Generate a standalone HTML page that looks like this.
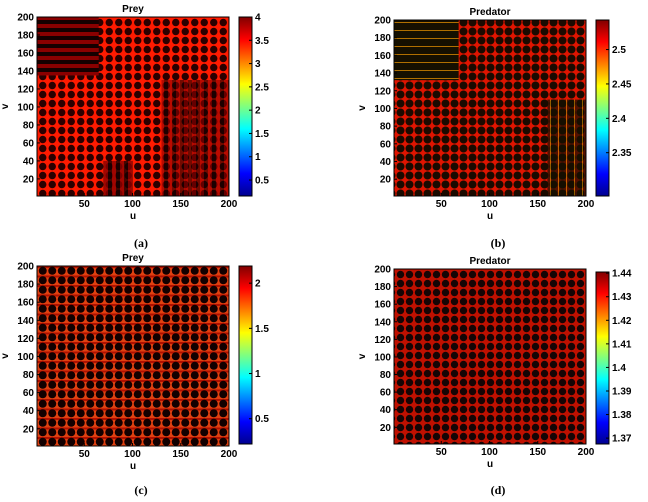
<!DOCTYPE html>
<html><head><meta charset="utf-8">
<style>
body{margin:0;background:#fff;width:648px;height:497px;overflow:hidden;font-family:"Liberation Sans",Arial,sans-serif}
svg text{font-family:"Liberation Sans",Arial,sans-serif}
svg text.cap{font-family:"Liberation Serif",serif}
</style></head>
<body>
<svg id="fig" width="648" height="497" viewBox="0 0 648 497" xmlns="http://www.w3.org/2000/svg">
<defs>
<linearGradient id="jet" x1="0" y1="1" x2="0" y2="0">
<stop offset="0" stop-color="#00008f"/><stop offset="0.125" stop-color="#0000ff"/>
<stop offset="0.375" stop-color="#00ffff"/><stop offset="0.625" stop-color="#ffff00"/>
<stop offset="0.875" stop-color="#ff0000"/><stop offset="1" stop-color="#800000"/>
</linearGradient>
<pattern id="patA" width="9.5" height="9" patternUnits="userSpaceOnUse">
<rect width="9.5" height="9" fill="#ff1a00"/><circle cx="4.75" cy="4.5" r="3.7" fill="#2a0000"/>
</pattern>
<pattern id="patB" width="9" height="9" patternUnits="userSpaceOnUse">
<rect width="9" height="9" fill="#e01400"/><circle cx="4.5" cy="4.5" r="4" fill="#1a0a00"/>
</pattern>
<pattern id="patC" width="9.5" height="9.5" patternUnits="userSpaceOnUse">
<rect width="9.5" height="9.5" fill="#e04010"/><rect y="0" width="9.5" height="2" fill="#b01000"/><circle cx="4.75" cy="4.75" r="4" fill="#120000"/>
</pattern>
<pattern id="patD" width="9" height="9" patternUnits="userSpaceOnUse">
<rect width="9" height="9" fill="#c01000"/><circle cx="4.5" cy="4.5" r="3.7" fill="#150505"/>
</pattern>
<pattern id="hstripe" width="10" height="8" patternUnits="userSpaceOnUse">
<rect width="10" height="8" fill="#8a0000"/><rect y="4" width="10" height="4" fill="#150000"/>
</pattern>
<pattern id="vstripe" width="8" height="10" patternUnits="userSpaceOnUse">
<rect width="8" height="10" fill="#8a0000"/><rect x="4" width="4" height="10" fill="#150000"/>
</pattern>
<pattern id="hstripeB" width="10" height="8" patternUnits="userSpaceOnUse">
<rect width="10" height="8" fill="#151000"/><rect y="6" width="10" height="1" fill="#b07000"/>
</pattern>
<pattern id="vstripeB" width="8" height="10" patternUnits="userSpaceOnUse">
<rect width="8" height="10" fill="#151000"/><rect x="6" width="1" height="10" fill="#c08000"/>
</pattern>
</defs>
</svg>
<script>
const svgNS="http://www.w3.org/2000/svg";
const fig=document.getElementById('fig');
const xTicks=[50,100,150,200];
const yTicks=[20,40,60,80,100,120,140,160,180,200];
const cbTicksA=[0.5,1,1.5,2,2.5,3,3.5,4];
const cbRangeA=[0.157,4];
const cbTicksB=[2.35,2.4,2.45,2.5];
const cbRangeB=[2.287,2.543];
const cbTicksC=[0.5,1,1.5,2];
const cbRangeC=[0.22,2.19];
const cbTicksD=[1.37,1.38,1.39,1.4,1.41,1.42,1.43,1.44];
const cbRangeD=[1.3675,1.4405];
const domain=[1,200];
function el(tag,attrs,parent){const e=document.createElementNS(svgNS,tag);for(const k in attrs)e.setAttribute(k,attrs[k]);(parent||fig).appendChild(e);return e;}
function panel(id,L,T,R,B,cbL,cbT,cbB,title,pat,cbTicks,cbRange,tag,capY,extra){
  const g=el('g',{});
  
  
  const xs=u=>L+(u-domain[0])/(domain[1]-domain[0])*(R-L);
  const ys=v=>B-(v-domain[0])/(domain[1]-domain[0])*(B-T);
  const hm=el('rect',{x:L,y:T,width:R-L,height:B-T,fill:'url(#'+pat+')'},g);
  
  
  if(extra)extra(g,xs,ys);
  el('rect',{x:L,y:T,width:R-L,height:B-T,fill:'none',stroke:'#000','stroke-width':1},g);
  const t=el('text',{x:(L+R)/2,y:T-5,'text-anchor':'middle','font-size':10,'font-weight':'bold'},g);t.textContent=title;
  
  xTicks.forEach(v=>{const x=xs(v);el('line',{x1:x,x2:x,y1:B,y2:B-3,stroke:'#000'},g);
    const tx=el('text',{x:x,y:B+11,'text-anchor':'middle','font-size':10,'font-weight':'bold'},g);tx.textContent=v;
    });
  yTicks.forEach(v=>{const y=ys(v);el('line',{x1:L,x2:L+3,y1:y,y2:y,stroke:'#000'},g);
    const tx=el('text',{x:L-3,y:y+3.5,'text-anchor':'end','font-size':10,'font-weight':'bold'},g);tx.textContent=v;
    });
  const xl=el('text',{x:(L+R)/2,y:B+23,'text-anchor':'middle','font-size':10,'font-weight':'bold'},g);xl.textContent='u';
  
  const yl=el('text',{x:0,y:0,'text-anchor':'middle','font-size':10,'font-weight':'bold',transform:`translate(${L-29},${(T+B)/2}) rotate(-90)`},g);yl.textContent='v';
  
  const cb=el('rect',{x:cbL,y:cbT,width:13,height:cbB-cbT,fill:'url(#jet)',stroke:'#000','stroke-width':1},g);
  
  const cs=v=>cbB-(v-cbRange[0])/(cbRange[1]-cbRange[0])*(cbB-cbT);
  cbTicks.forEach(v=>{const y=cs(v);el('line',{x1:cbL+13,x2:cbL+10,y1:y,y2:y,stroke:'#000'},g);
    const tx=el('text',{x:cbL+16,y:y+3.5,'font-size':10,'font-weight':'bold'},g);tx.textContent=v;
    });
  const cap=el('text',{class:'cap',x:(L+R)/2+8,y:capY,'text-anchor':'middle','font-size':12,'font-weight':'bold'},g);cap.textContent='('+tag+')';
  
}
panel('a',37,17,229,196,239,17,196,'Prey','patA',cbTicksA,cbRangeA,'a',247,(g,xs,ys)=>{
  el('rect',{x:xs(1),y:ys(200),width:xs(65)-xs(1),height:ys(135)-ys(200),fill:'url(#hstripe)'},g);
  el('rect',{x:xs(130),y:ys(130),width:xs(200)-xs(130),height:ys(1)-ys(130),fill:'url(#vstripe)',opacity:0.6},g);
  el('rect',{x:xs(70),y:ys(40),width:xs(100)-xs(70),height:ys(1)-ys(40),fill:'url(#vstripe)',opacity:0.8},g);
});
panel('b',394,20,586,196,596,20,196,'Predator','patB',cbTicksB,cbRangeB,'b',247,(g,xs,ys)=>{
  el('rect',{x:xs(1),y:ys(200),width:xs(68)-xs(1),height:ys(132)-ys(200),fill:'url(#hstripeB)'},g);
  el('rect',{x:xs(160),y:ys(110),width:xs(200)-xs(160),height:ys(1)-ys(110),fill:'url(#vstripeB)',opacity:0.7},g);
});
panel('c',37,266,229,446,239,266,444,'Prey','patC',cbTicksC,cbRangeC,'c',494);
panel('d',394,269,586,444,596,272,444,'Predator','patD',cbTicksD,cbRangeD,'d',494);
</script>
</body></html>
